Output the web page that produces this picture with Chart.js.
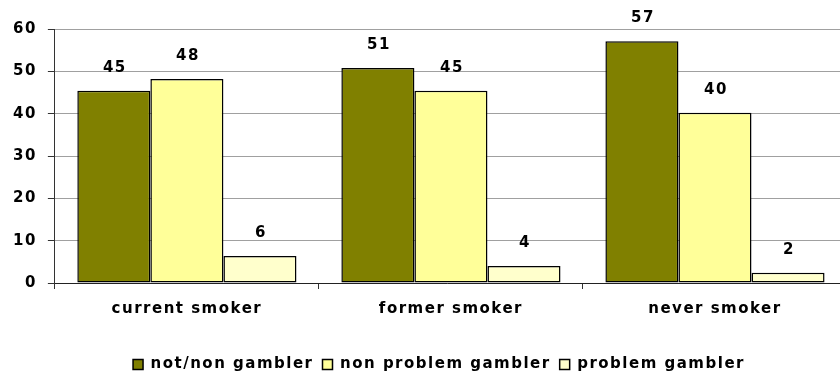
<!DOCTYPE html>
<html>
<head>
<meta charset="utf-8">
<script src="https://cdn.jsdelivr.net/npm/chart.js@4/dist/chart.umd.min.js"></script>
<style>
  html, body { margin: 0; padding: 0; background: #fff; }
  #wrap { width: 840px; height: 373px; }
</style>
</head>
<body>
<div id="wrap"><canvas id="c" width="840" height="373"></canvas></div>
<script>
const categories = ["current smoker", "former smoker", "never smoker"];
const seriesNames = ["not/non gambler", "non problem gambler", "problem gambler"];
const notNonGambler = [45.4, 50.8, 57.1];
const nonProblemGambler = [48.2, 45.4, 40.2];
const problemGambler = [6.4, 4.0, 2.4];
const yTicks = [0, 10, 20, 30, 40, 50, 60];

const FONT = "'DejaVu Sans', 'Liberation Sans', Arial, sans-serif";
const SPACING = '1.5px';

const spacingPlugin = {
  id: 'spacing',
  beforeInit(chart) { chart.ctx.letterSpacing = SPACING; },
  beforeUpdate(chart) { chart.ctx.letterSpacing = SPACING; },
  beforeLayout(chart) { chart.ctx.letterSpacing = SPACING; },
  beforeDraw(chart) { chart.ctx.letterSpacing = SPACING; }
};

// the reference plot area runs slightly past the right edge of the picture
const extendArea = {
  id: 'extendArea',
  afterLayout(chart) {
    const extra = 7;
    const x = chart.scales.x;
    x.right += extra; x.width += extra;
    chart.chartArea.right += extra; chart.chartArea.width += extra;
    x.configure();
    const lg = chart.legend;
    if (lg) { lg.left += 18; lg.right += 18; }
  }
};

const valueLabels = {
  id: 'valueLabels',
  afterDatasetsDraw(chart) {
    const ctx = chart.ctx;
    ctx.save();
    ctx.letterSpacing = SPACING;
    ctx.font = "bold 15px " + FONT;
    ctx.fillStyle = '#000';
    ctx.textAlign = 'center';
    ctx.textBaseline = 'middle';
    chart.data.datasets.forEach((ds, i) => {
      const meta = chart.getDatasetMeta(i);
      meta.data.forEach((el, j) => {
        ctx.fillText(String(Math.round(ds.data[j])), el.x + 1, el.y - 23);
      });
    });
    ctx.restore();
  }
};

new Chart(document.getElementById('c'), {
  type: 'bar',
  data: {
    labels: categories,
    datasets: [
      { label: seriesNames[0], data: notNonGambler, backgroundColor: '#808000', borderColor: '#000', borderWidth: 1.5 },
      { label: seriesNames[1], data: nonProblemGambler, backgroundColor: '#FFFF99', borderColor: '#000', borderWidth: 1.5 },
      { label: seriesNames[2], data: problemGambler, backgroundColor: '#FFFFCC', borderColor: '#000', borderWidth: 1.5 }
    ]
  },
  options: {
    responsive: false,
    animation: false,
    devicePixelRatio: 1,
    layout: { padding: { left: 2, right: 0, top: 29, bottom: -9 } },
    datasets: { bar: { barPercentage: 1.0, categoryPercentage: 0.83, borderSkipped: false } },
    scales: {
      x: {
        grid: { drawOnChartArea: false, drawTicks: true, tickLength: 6, color: '#333', offset: true },
        border: { color: '#222', width: 1 },
        ticks: { color: '#000', font: { family: FONT, weight: 'bold', size: 15 }, padding: 11 },
        afterFit(scale) { scale.height = 65; }
      },
      y: {
        min: 0, max: 60,
        afterBuildTicks(axis) { axis.ticks = yTicks.map(v => ({ value: v })); },
        grid: { color: '#a0a0a0', lineWidth: 1, drawTicks: true, tickLength: 7, tickColor: '#333' },
        border: { color: '#333', width: 1 },
        ticks: { color: '#000', font: { family: FONT, weight: 'bold', size: 15 }, padding: 11 }
      }
    },
    plugins: {
      legend: {
        position: 'bottom',
        labels: {
          color: '#000',
          font: { family: FONT, weight: 'bold', size: 15 },
          boxWidth: 10, boxHeight: 10, padding: 9
        }
      },
      tooltip: { enabled: false }
    }
  },
  plugins: [spacingPlugin, extendArea, valueLabels]
});
</script>
</body>
</html>
